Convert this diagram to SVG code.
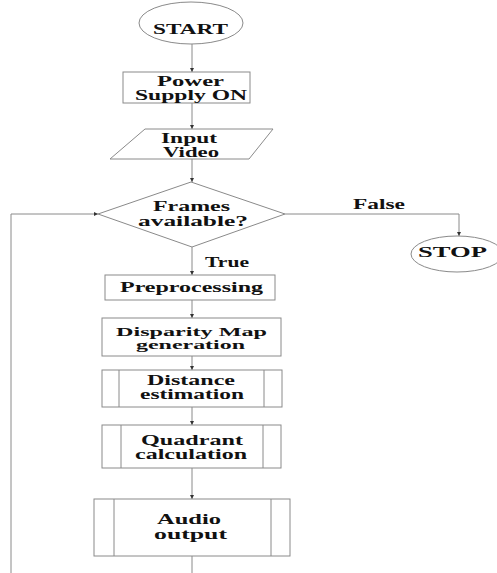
<svg xmlns="http://www.w3.org/2000/svg" width="497" height="573" viewBox="0 0 497 573">
<style>
.s{fill:#fff;stroke:#8a8a8a;stroke-width:1}
.c{fill:none;stroke:#8a8a8a;stroke-width:1}
.t{font-family:"Liberation Serif","Times New Roman",serif;font-weight:bold;font-size:14px;fill:#111;text-anchor:middle}
.sm{font-size:13px}
</style>
<defs>
<marker id="ah" markerUnits="userSpaceOnUse" markerWidth="5" markerHeight="5" refX="4" refY="2" orient="auto">
<path d="M0,0 L4,2 L0,4 Z" fill="#333"/>
</marker>
</defs>
<rect width="497" height="573" fill="#fff"/>
<g id="connectors">
<line class="c" x1="192" y1="44" x2="192" y2="72" marker-end="url(#ah)"/>
<line class="c" x1="192" y1="103" x2="192" y2="129" marker-end="url(#ah)"/>
<line class="c" x1="192" y1="159" x2="192" y2="182" marker-end="url(#ah)"/>
<polyline class="c" points="285,214 459,214 459,236" marker-end="url(#ah)"/>
<line class="c" x1="192" y1="247" x2="192" y2="275" marker-end="url(#ah)"/>
<line class="c" x1="192" y1="300" x2="192" y2="318" marker-end="url(#ah)"/>
<line class="c" x1="192" y1="356" x2="192" y2="370" marker-end="url(#ah)"/>
<line class="c" x1="192" y1="407" x2="192" y2="425" marker-end="url(#ah)"/>
<line class="c" x1="192" y1="468" x2="192" y2="499" marker-end="url(#ah)"/>
<line class="c" x1="192" y1="556" x2="192" y2="573"/>
<polyline class="c" points="11,573 11,214 98,214" marker-end="url(#ah)"/>
<text class="t" x="379" y="209" textLength="52" lengthAdjust="spacingAndGlyphs">False</text>
<text class="t" x="227" y="267" textLength="44" lengthAdjust="spacingAndGlyphs">True</text>
</g>
<g id="start">
<ellipse class="s" cx="191" cy="23" rx="52" ry="21"/>
<text class="t" x="190.5" y="34" textLength="75" lengthAdjust="spacingAndGlyphs">START</text>
</g>
<g id="power">
<rect class="s" x="123" y="72" width="127" height="31"/>
<text class="t" x="190.5" y="86" textLength="67" lengthAdjust="spacingAndGlyphs">Power</text>
<text class="t" x="191" y="100" textLength="112" lengthAdjust="spacingAndGlyphs">Supply ON</text>
</g>
<g id="input">
<polygon class="s" points="145,129 273,129 249,159 110,159"/>
<text class="t" x="189" y="143" textLength="56" lengthAdjust="spacingAndGlyphs">Input</text>
<text class="t" x="191" y="157" textLength="56" lengthAdjust="spacingAndGlyphs">Video</text>
</g>
<g id="decision">
<polygon class="s" points="191,182 285,214 192,247 98,214"/>
<text class="t" x="191.5" y="211" textLength="77" lengthAdjust="spacingAndGlyphs">Frames</text>
<text class="t" x="193" y="226" textLength="110" lengthAdjust="spacingAndGlyphs">available?</text>
</g>
<g id="stop">
<ellipse class="s" cx="457" cy="254" rx="46" ry="18"/>
<text class="t" x="452.5" y="257" textLength="69" lengthAdjust="spacingAndGlyphs">STOP</text>
</g>
<g id="preprocessing">
<rect class="s" x="105" y="275" width="170" height="25"/>
<text class="t" x="191.5" y="292" textLength="143" lengthAdjust="spacingAndGlyphs">Preprocessing</text>
</g>
<g id="disparity">
<rect class="s" x="102" y="318" width="179" height="38"/>
<text class="t sm" x="191.5" y="335.5" textLength="151" lengthAdjust="spacingAndGlyphs">Disparity Map</text>
<text class="t sm" x="190.5" y="349" textLength="109" lengthAdjust="spacingAndGlyphs">generation</text>
</g>
<g id="distance">
<rect class="s" x="102" y="370" width="180" height="37"/>
<line class="c" x1="119" y1="370" x2="119" y2="407"/>
<line class="c" x1="264" y1="370" x2="264" y2="407"/>
<text class="t" x="191" y="385" textLength="88" lengthAdjust="spacingAndGlyphs">Distance</text>
<text class="t" x="192" y="399" textLength="104" lengthAdjust="spacingAndGlyphs">estimation</text>
</g>
<g id="quadrant">
<rect class="s" x="102" y="425" width="179" height="43"/>
<line class="c" x1="121" y1="425" x2="121" y2="468"/>
<line class="c" x1="263" y1="425" x2="263" y2="468"/>
<text class="t" x="192" y="445" textLength="102" lengthAdjust="spacingAndGlyphs">Quadrant</text>
<text class="t" x="191" y="459" textLength="112" lengthAdjust="spacingAndGlyphs">calculation</text>
</g>
<g id="audio">
<rect class="s" x="94" y="499" width="196" height="57"/>
<line class="c" x1="114" y1="499" x2="114" y2="556"/>
<line class="c" x1="271" y1="499" x2="271" y2="556"/>
<text class="t" x="189" y="524" textLength="64" lengthAdjust="spacingAndGlyphs">Audio</text>
<text class="t" x="190.5" y="539" textLength="73" lengthAdjust="spacingAndGlyphs">output</text>
</g>
</svg>
